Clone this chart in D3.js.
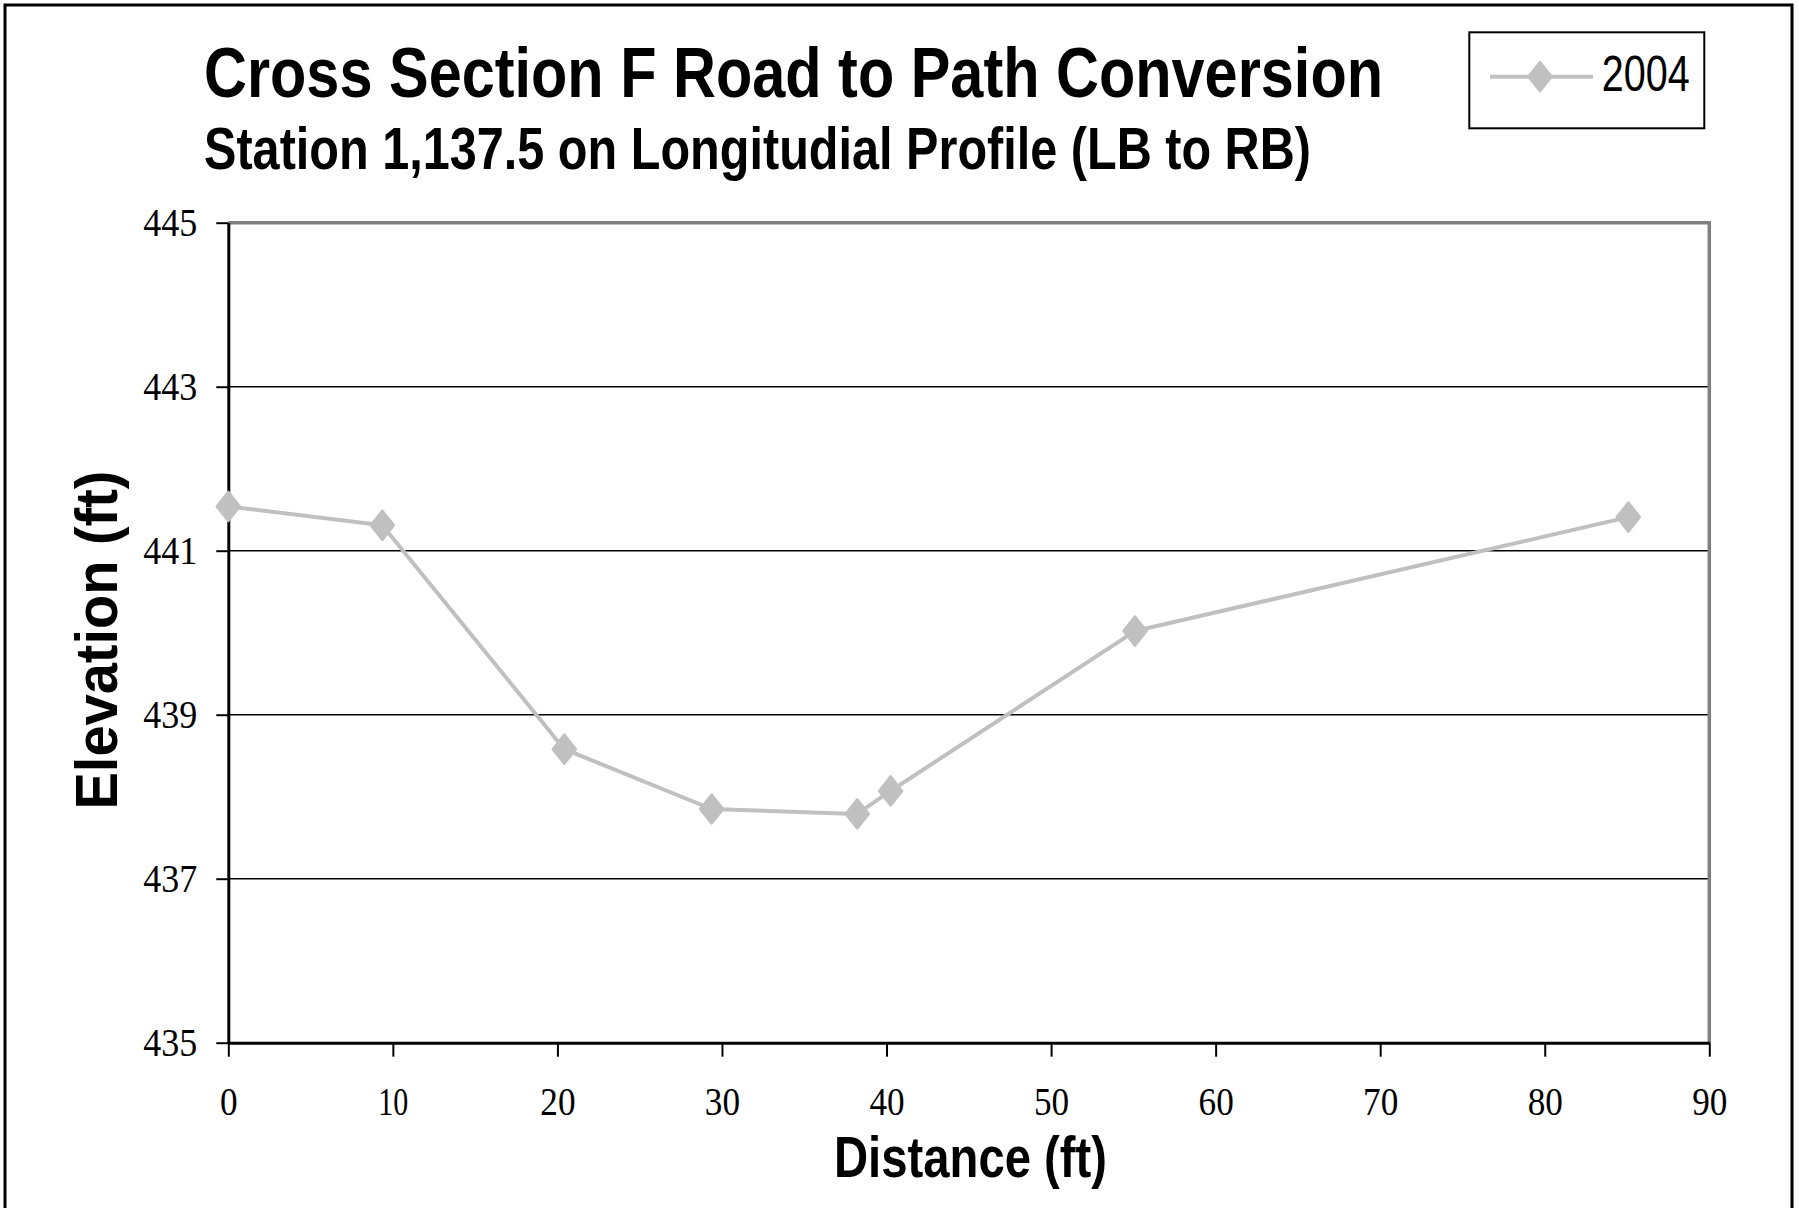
<!DOCTYPE html>
<html>
<head>
<meta charset="utf-8">
<script src="https://cdn.jsdelivr.net/npm/d3@7"></script>
<style>
  html, body { margin: 0; padding: 0; background: #fff; }
  svg { display: block; }
</style>
</head>
<body>
<svg id="chart" width="1799" height="1208"></svg>
<script>
// ---- Data ----
const seriesName = "2004";
const distance  = [0, 9.36, 20.42, 29.37, 38.22, 40.25, 55.10, 85.08];
const elevation = [441.54, 441.31, 438.58, 437.85, 437.79, 438.07, 440.02, 441.41];
const xTicks = [0, 10, 20, 30, 40, 50, 60, 70, 80, 90];
const yTicks = [435, 437, 439, 441, 443, 445];
const titleText = "Cross Section F Road to Path Conversion";
const subtitleText = "Station 1,137.5 on Longitudial Profile (LB to RB)";
const xLabel = "Distance (ft)";
const yLabel = "Elevation  (ft)";

// ---- Layout ----
const W = 1799, H = 1208;
const plot = { left: 228.3, right: 1709.3, top: 222.7, bottom: 1042.7 };
const seriesColor = "#c0c0c0";
const sans = "'Liberation Sans', Arial, Helvetica, sans-serif";
const serif = "'Liberation Serif', 'Times New Roman', Times, serif";

const svg = d3.select("#chart");
svg.append("rect").attr("width", W).attr("height", H).attr("fill", "#fff");

// outer border (bottom edge runs off the picture)
svg.append("rect")
  .attr("x", 5).attr("y", 5).attr("width", 1787).attr("height", 1230)
  .attr("fill", "none").attr("stroke", "#000").attr("stroke-width", 3);

const x = d3.scaleLinear().domain([0, 90]).range([plot.left, plot.right]);
const y = d3.scaleLinear().domain([435, 445]).range([plot.bottom, plot.top]);

// gridlines
svg.append("g").selectAll("line")
  .data(yTicks.filter(v => v !== 435 && v !== 445))
  .join("line")
  .attr("x1", plot.left).attr("x2", plot.right)
  .attr("y1", d => y(d)).attr("y2", d => y(d))
  .attr("stroke", "#000").attr("stroke-width", 1.4);

// gray plot-area border (top & right)
svg.append("path")
  .attr("d", `M${plot.left},${y(445)}H${x(90)}V${y(435)}`)
  .attr("fill", "none").attr("stroke", "#808080").attr("stroke-width", 3.5);

// condensed-looking serif tick labels
function condense(sel, factor) {
  sel.each(function () {
    const w = this.getComputedTextLength();
    d3.select(this).attr("textLength", w * factor).attr("lengthAdjust", "spacingAndGlyphs");
  });
}

// y axis
const yAxis = svg.append("g")
  .attr("transform", `translate(${plot.left},0)`)
  .call(d3.axisLeft(y).tickValues(yTicks).tickFormat(d3.format("d"))
        .tickSize(12).tickSizeOuter(0).tickPadding(19));
yAxis.select(".domain").attr("stroke", "#000").attr("stroke-width", 3);
yAxis.selectAll(".tick line").attr("stroke", "#000").attr("stroke-width", 2);
yAxis.selectAll(".tick text")
  .attr("font-family", serif).attr("font-size", 40).attr("fill", "#000")
  .attr("dy", "0.33em")
  .call(condense, 0.9);

// x axis
const xAxis = svg.append("g")
  .attr("transform", `translate(0,${plot.bottom})`)
  .call(d3.axisBottom(x).tickValues(xTicks).tickFormat(d3.format("d"))
        .tickSize(14).tickSizeOuter(0));
xAxis.select(".domain").attr("stroke", "#000").attr("stroke-width", 3);
xAxis.selectAll(".tick line").attr("stroke", "#000").attr("stroke-width", 2);
xAxis.selectAll(".tick text")
  .attr("font-family", serif).attr("font-size", 40).attr("fill", "#000")
  .attr("y", 72).attr("dy", 0)
  .call(condense, 0.88);
xAxis.selectAll(".tick text").filter(d => d === 10)
  .attr("textLength", 30);

// diamond marker symbol
const diamond = {
  draw(ctx, size) {
    const hw = 11.6, hh = 14.6;
    ctx.moveTo(0, -hh); ctx.lineTo(hw, 0); ctx.lineTo(0, hh); ctx.lineTo(-hw, 0); ctx.closePath();
  }
};
const sym = d3.symbol().type(diamond);

// series line
const pts = distance.map((d, i) => ({ x: d, y: elevation[i] }));
svg.append("path")
  .datum(pts)
  .attr("d", d3.line().x(d => x(d.x)).y(d => y(d.y)))
  .attr("fill", "none").attr("stroke", seriesColor).attr("stroke-width", 4)
  .attr("stroke-linejoin", "round");

svg.append("g").selectAll("path")
  .data(pts).join("path")
  .attr("transform", d => `translate(${x(d.x)},${y(d.y)})`)
  .attr("d", sym)
  .attr("fill", seriesColor).attr("stroke", seriesColor)
  .attr("stroke-width", 2.4).attr("stroke-linejoin", "round");

// titles
svg.append("text")
  .attr("x", 204).attr("y", 97)
  .attr("font-family", sans).attr("font-weight", "bold").attr("font-size", 71)
  .attr("textLength", 1179).attr("lengthAdjust", "spacingAndGlyphs")
  .text(titleText);
svg.append("text")
  .attr("x", 204).attr("y", 168.5)
  .attr("font-family", sans).attr("font-weight", "bold").attr("font-size", 59)
  .attr("textLength", 1107).attr("lengthAdjust", "spacingAndGlyphs")
  .text(subtitleText);

// axis titles
svg.append("text")
  .attr("x", 970.5).attr("y", 1177)
  .attr("text-anchor", "middle")
  .attr("font-family", sans).attr("font-weight", "bold").attr("font-size", 58)
  .attr("textLength", 273).attr("lengthAdjust", "spacingAndGlyphs")
  .text(xLabel);
svg.append("text")
  .attr("transform", "translate(117,640) rotate(-90)")
  .attr("text-anchor", "middle")
  .attr("font-family", sans).attr("font-weight", "bold").attr("font-size", 60)
  .attr("textLength", 339).attr("lengthAdjust", "spacingAndGlyphs")
  .text(yLabel);

// legend
const lg = svg.append("g");
lg.append("rect")
  .attr("x", 1469.3).attr("y", 32.3).attr("width", 235).attr("height", 96)
  .attr("fill", "#fff").attr("stroke", "#000").attr("stroke-width", 2);
lg.append("line")
  .attr("x1", 1490).attr("x2", 1593).attr("y1", 76.7).attr("y2", 76.7)
  .attr("stroke", seriesColor).attr("stroke-width", 4);
lg.append("path")
  .attr("transform", "translate(1540,76.7)")
  .attr("d", sym)
  .attr("fill", seriesColor).attr("stroke", seriesColor)
  .attr("stroke-width", 2.4).attr("stroke-linejoin", "round");
lg.append("text")
  .attr("x", 1601.7).attr("y", 90.7)
  .attr("font-family", sans).attr("font-size", 50)
  .attr("textLength", 88).attr("lengthAdjust", "spacingAndGlyphs")
  .text(seriesName);
</script>
</body>
</html>
